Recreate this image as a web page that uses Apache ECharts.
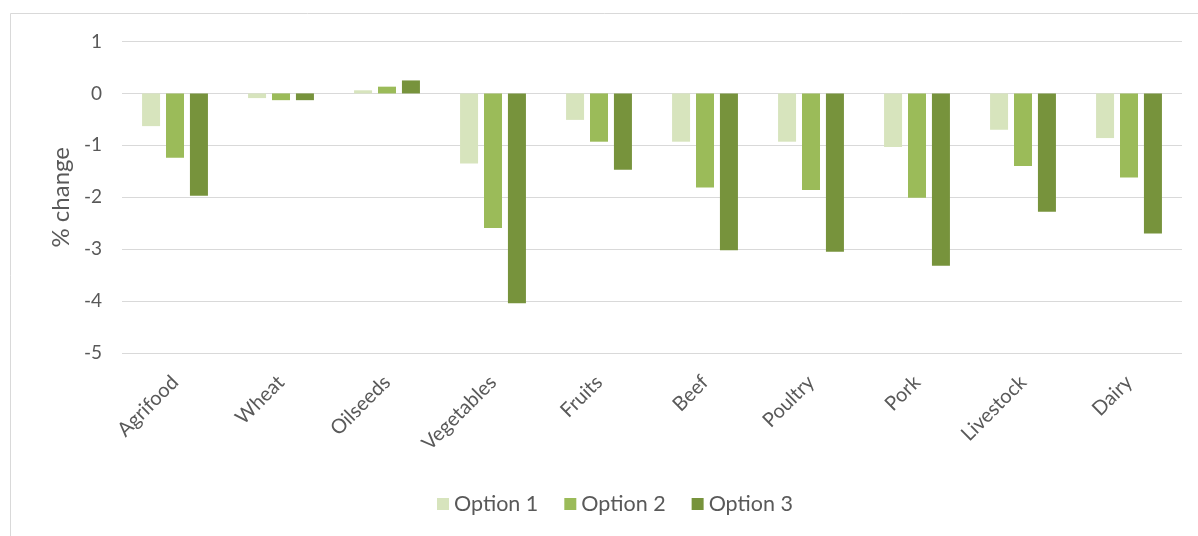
<!DOCTYPE html>
<html>
<head>
<meta charset="utf-8">
<script src="https://cdn.jsdelivr.net/npm/echarts@6/dist/echarts.min.js"></script>
<style>
  html, body { margin: 0; padding: 0; background: #ffffff; }
  #chart { width: 1198px; height: 536px; }
</style>
</head>
<body>
<div id="chart"></div>
<script>
// Percentage change by agrifood sector under three policy options
const categories = ['Agrifood', 'Wheat', 'Oilseeds', 'Vegetables', 'Fruits', 'Beef', 'Poultry', 'Pork', 'Livestock', 'Dairy'];
const seriesNames = ['Option 1', 'Option 2', 'Option 3'];
const option1 = [-0.63, -0.09, 0.06, -1.35, -0.51, -0.93, -0.93, -1.03, -0.70, -0.86];
const option2 = [-1.24, -0.13, 0.13, -2.59, -0.93, -1.81, -1.86, -2.01, -1.40, -1.62];
const option3 = [-1.97, -0.13, 0.25, -4.04, -1.47, -3.02, -3.05, -3.32, -2.28, -2.70];
const yTicks = { min: -5, max: 1, interval: 1 };
const colors = ['#d7e4bd', '#9bbb59', '#77933c'];

const FONT = 'Lato';
const TEXT = '#595959';
const chart = echarts.init(document.getElementById('chart'), null, { renderer: 'canvas' });

const values = [option1, option2, option3];
const series = seriesNames.map((name, i) => ({
  name: name,
  type: 'bar',
  data: values[i],
  barWidth: 18,
  barGap: '33%',
  itemStyle: { color: colors[i] }
}));

chart.setOption({
  animation: false,
  backgroundColor: '#ffffff',
  textStyle: { fontFamily: FONT },
  graphic: [{
    type: 'rect',
    shape: { x: 10.5, y: 13.5, width: 1400, height: 700 },
    style: { fill: 'none', stroke: '#d9d9d9', lineWidth: 1 },
    silent: true,
    z: -1
  }],
  grid: { left: 122, right: 16, top: 41.5, bottom: 183, containLabel: false },
  legend: {
    data: seriesNames,
    bottom: 16,
    left: 432,
    icon: 'rect',
    itemWidth: 12,
    itemHeight: 12,
    itemGap: 26,
    textStyle: { fontFamily: FONT, fontSize: 21.5, color: TEXT }
  },
  xAxis: {
    type: 'category',
    data: categories,
    axisLine: { show: false, onZero: false },
    axisTick: { show: false },
    axisLabel: {
      rotate: 45,
      interval: 0,
      margin: 26,
      fontFamily: FONT,
      fontSize: 20,
      color: TEXT
    }
  },
  yAxis: {
    type: 'value',
    min: yTicks.min,
    max: yTicks.max,
    interval: yTicks.interval,
    name: '% change',
    nameLocation: 'middle',
    nameGap: 48,
    nameRotate: 90,
    nameTextStyle: { fontFamily: FONT, fontSize: 24, color: TEXT },
    axisLine: { show: false },
    axisTick: { show: false },
    axisLabel: { margin: 20, fontFamily: FONT, fontSize: 19, color: TEXT },
    splitLine: { lineStyle: { color: '#d9d9d9', width: 1 } }
  },
  series: series
});
</script>
</body>
</html>
